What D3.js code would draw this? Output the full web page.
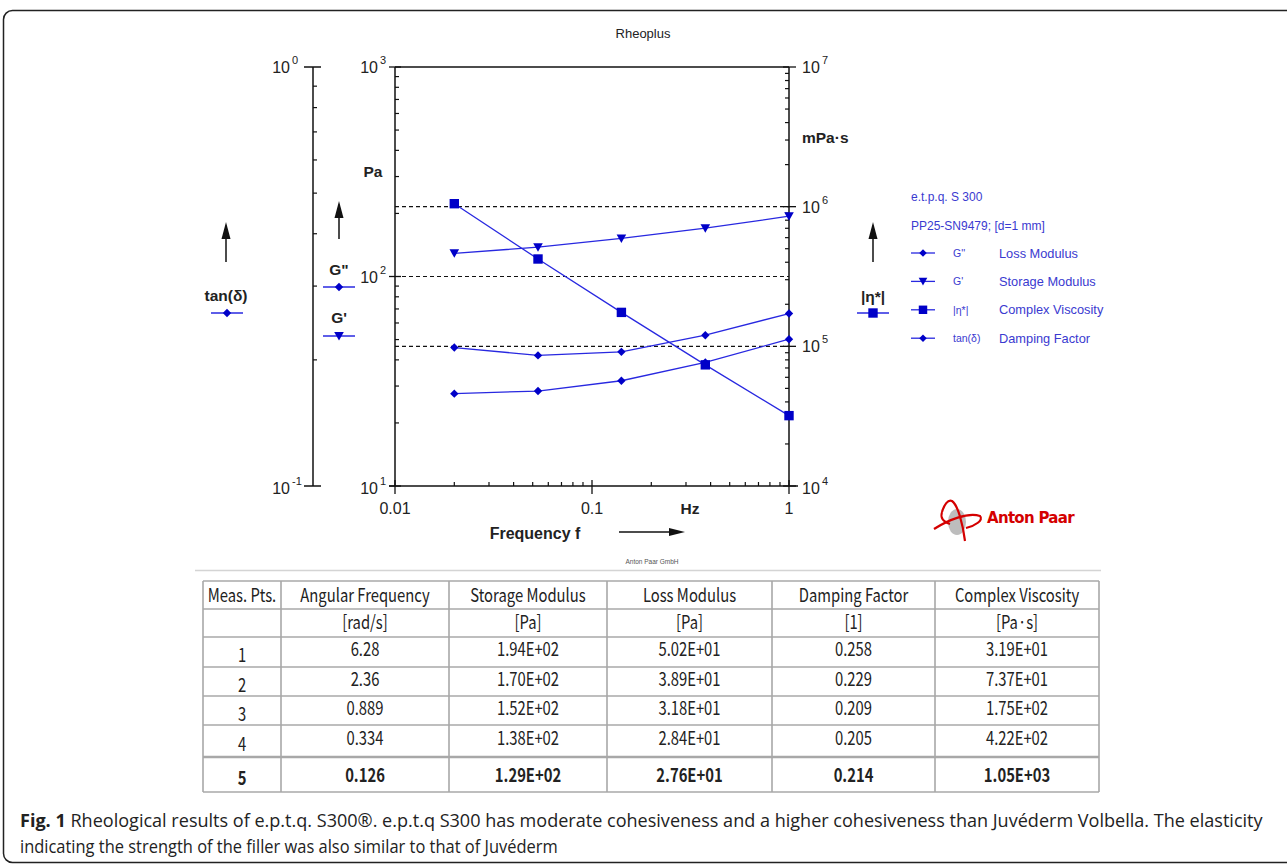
<!DOCTYPE html>
<html>
<head>
<meta charset="utf-8">
<script src="https://cdn.jsdelivr.net/npm/d3@7"></script>
<style>
  html, body { margin: 0; padding: 0; background: #fff; }
  svg { display: block; }
</style>
</head>
<body>
<svg id="chart" width="1287" height="866"></svg>
<script>
// ---------------- DATA ----------------
const measPts = ["1", "2", "3", "4", "5"];
const frequencyHz = [1, 0.376, 0.141, 0.0532, 0.02];             // chart x values
const angularFrequency = ["6.28", "2.36", "0.889", "0.334", "0.126"];
const storageModulus = [194, 170, 152, 138, 129];                  // G' [Pa]
const lossModulus = [50.2, 38.9, 31.8, 28.4, 27.6];                // G'' [Pa]
const dampingFactor = [0.258, 0.229, 0.209, 0.205, 0.214];         // tan(δ)
const complexViscosity = [31.9, 73.7, 175, 422, 1050];             // |η*| [Pa·s]
const storageLabels = ["1.94E+02", "1.70E+02", "1.52E+02", "1.38E+02", "1.29E+02"];
const lossLabels = ["5.02E+01", "3.89E+01", "3.18E+01", "2.84E+01", "2.76E+01"];
const dampingLabels = ["0.258", "0.229", "0.209", "0.205", "0.214"];
const viscLabels = ["3.19E+01", "7.37E+01", "1.75E+02", "4.22E+02", "1.05E+03"];
const tableHeaders = ["Meas. Pts.", "Angular Frequency", "Storage Modulus", "Loss Modulus", "Damping Factor", "Complex Viscosity"];
const tableUnits = ["", "[rad/s]", "[Pa]", "[Pa]", "[1]", "[Pa·s]"];
const xTickLabels = ["0.01", "0.1", "1"];
const legendRows = [
  {sym: "G''", desc: "Loss Modulus", shape: "diamond"},
  {sym: "G'", desc: "Storage Modulus", shape: "triangle"},
  {sym: "|η*|", desc: "Complex Viscosity", shape: "square"},
  {sym: "tan(δ)", desc: "Damping Factor", shape: "diamond"}
];

(function () {
// ---------------- SETUP ----------------
const svg = d3.select("#chart");
const AX = "'Liberation Sans', Arial, sans-serif";
const LINE = "#2828e0", MARK = "#0000c8", LEG = "#3a3ad0";

// outer frame
svg.append("rect").attr("x", 3.5).attr("y", 10.5).attr("width", 1310).attr("height", 852)
  .attr("rx", 9).attr("fill", "none").attr("stroke", "#222").attr("stroke-width", 1.5);

const yTop = 67, yBot = 486, xl = 395, xr = 789;
const x = d3.scaleLog().domain([0.01, 1]).range([xl, xr]);
const yPa = d3.scaleLog().domain([10, 1000]).range([yBot, yTop]);
const yVisc = d3.scaleLog().domain([1e4, 1e7]).range([yBot, yTop]);
const yTan = d3.scaleLog().domain([0.1, 1]).range([yBot, yTop]);
const isMajor = v => Math.abs(Math.log10(v) - Math.round(Math.log10(v))) < 1e-6;

const shapes = {
  diamond: "M0,-4.2L4.2,0L0,4.2L-4.2,0Z",
  triangle: "M-4.8,-4L4.8,-4L0,4.5Z",
  square: "M-4.7,-4.7H4.7V4.7H-4.7Z"
};

// title
svg.append("text").attr("x", 643).attr("y", 38).attr("text-anchor", "middle")
  .attr("font-family", AX).attr("font-size", 13).attr("fill", "#222").text("Rheoplus");

const g = svg.append("g").attr("stroke-linecap", "butt");

// dashed grid lines
[yVisc(1e6), yPa(100), yVisc(1e5)].forEach(yy => {
  g.append("line").attr("x1", xl).attr("x2", xr).attr("y1", yy).attr("y2", yy)
    .attr("stroke", "#111").attr("stroke-width", 1.2).attr("stroke-dasharray", "4,3");
});

// frame lines of plot
g.append("line").attr("x1", xl).attr("x2", xr).attr("y1", yTop).attr("y2", yTop).attr("stroke", "#111").attr("stroke-width", 1.5);
g.append("line").attr("x1", xl).attr("x2", xl).attr("y1", yTop).attr("y2", yBot).attr("stroke", "#111").attr("stroke-width", 1.5);
g.append("line").attr("x1", xr).attr("x2", xr).attr("y1", yTop).attr("y2", yBot).attr("stroke", "#111").attr("stroke-width", 1.5);
g.append("line").attr("x1", xl - 6).attr("x2", xr + 9).attr("y1", yBot).attr("y2", yBot).attr("stroke", "#111").attr("stroke-width", 1.5);

// left Pa axis ticks
yPa.ticks().forEach(v => {
  const yy = yPa(v);
  if (isMajor(v)) g.append("line").attr("x1", xl - 6).attr("x2", xl + 6).attr("y1", yy).attr("y2", yy).attr("stroke", "#111").attr("stroke-width", 1.3);
  else g.append("line").attr("x1", xl).attr("x2", xl + 4).attr("y1", yy).attr("y2", yy).attr("stroke", "#111").attr("stroke-width", 1.2);
});
// right viscosity axis ticks
yVisc.ticks().forEach(v => {
  const yy = yVisc(v);
  if (isMajor(v)) g.append("line").attr("x1", xr - 6).attr("x2", xr + 7).attr("y1", yy).attr("y2", yy).attr("stroke", "#111").attr("stroke-width", 1.3);
  else g.append("line").attr("x1", xr - 4).attr("x2", xr).attr("y1", yy).attr("y2", yy).attr("stroke", "#111").attr("stroke-width", 1.2);
});
// x axis ticks
x.ticks().forEach(v => {
  const xx = x(v);
  if (isMajor(v)) g.append("line").attr("x1", xx).attr("x2", xx).attr("y1", yBot - 6).attr("y2", yBot + 8).attr("stroke", "#111").attr("stroke-width", 1.3);
  else g.append("line").attr("x1", xx).attr("x2", xx).attr("y1", yBot - 4).attr("y2", yBot).attr("stroke", "#111").attr("stroke-width", 1.2);
});
// tan axis
const xt = 313;
g.append("line").attr("x1", xt).attr("x2", xt).attr("y1", yTop).attr("y2", yBot).attr("stroke", "#111").attr("stroke-width", 1.5);
yTan.ticks().forEach(v => {
  const yy = yTan(v);
  if (isMajor(v)) g.append("line").attr("x1", xt - 9).attr("x2", xt + 8).attr("y1", yy).attr("y2", yy).attr("stroke", "#111").attr("stroke-width", 1.5);
  else g.append("line").attr("x1", xt).attr("x2", xt + 4).attr("y1", yy).attr("y2", yy).attr("stroke", "#111").attr("stroke-width", 1.2);
});

// power-of-ten labels
function powLabel(xEnd, yy, exp) {
  svg.append("text").attr("font-family", AX).attr("fill", "#222").attr("font-size", 16)
    .attr("x", xEnd).attr("y", yy + 6).attr("text-anchor", "end").text("10");
  svg.append("text").attr("font-family", AX).attr("fill", "#222").attr("font-size", 11)
    .attr("x", xEnd + 2).attr("y", yy - 3).text(exp);
}
function powLabelLeft(xStart, yy, exp) {
  svg.append("text").attr("font-family", AX).attr("fill", "#222").attr("font-size", 16)
    .attr("x", xStart).attr("y", yy + 6).text("10");
  svg.append("text").attr("font-family", AX).attr("fill", "#222").attr("font-size", 11)
    .attr("x", xStart + 20).attr("y", yy - 3).text(exp);
}
yPa.ticks().filter(isMajor).forEach(v => powLabel(378, yPa(v) + (v === 10 ? 2 : 0), String(Math.round(Math.log10(v)))));
yTan.ticks().filter(isMajor).forEach(v => powLabel(290, yTan(v) + (v === 0.1 ? 2 : 0), String(Math.round(Math.log10(v)))));
yVisc.ticks().filter(isMajor).forEach(v => powLabelLeft(802, yVisc(v) + (v === 1e4 ? 2 : 0), String(Math.round(Math.log10(v)))));

// x tick labels
x.ticks().filter(isMajor).forEach((v, i) => {
  svg.append("text").attr("x", x(v)).attr("y", 514).attr("text-anchor", "middle")
    .attr("font-family", AX).attr("font-size", 16).attr("fill", "#222").text(xTickLabels[i]);
});
svg.append("text").attr("x", 690).attr("y", 514).attr("text-anchor", "middle")
  .attr("font-family", AX).attr("font-size", 15.5).attr("font-weight", "bold").attr("fill", "#222").text("Hz");
svg.append("text").attr("x", 535).attr("y", 539).attr("text-anchor", "middle")
  .attr("font-family", AX).attr("font-size", 16).attr("font-weight", "bold").attr("fill", "#222").text("Frequency f");

// arrows
function hArrow(x1, x2, yy) {
  svg.append("line").attr("x1", x1).attr("x2", x2 - 10).attr("y1", yy).attr("y2", yy).attr("stroke", "#111").attr("stroke-width", 1.5);
  svg.append("path").attr("d", `M${x2},${yy}L${x2 - 16},${yy - 4}L${x2 - 16},${yy + 4}Z`).attr("fill", "#111");
}
function vArrow(xx, yTip, yB) {
  svg.append("line").attr("x1", xx).attr("x2", xx).attr("y1", yB).attr("y2", yTip + 10).attr("stroke", "#111").attr("stroke-width", 1.5);
  svg.append("path").attr("d", `M${xx},${yTip}L${xx - 4.5},${yTip + 17}L${xx + 4.5},${yTip + 17}Z`).attr("fill", "#111");
}
hArrow(619, 685, 532);
vArrow(226, 222, 262);
vArrow(339, 201, 239);
vArrow(873, 222, 262);

// left / right axis titles
function boldLabel(xx, yy, txt, anchor) {
  svg.append("text").attr("x", xx).attr("y", yy).attr("text-anchor", anchor || "middle")
    .attr("font-family", AX).attr("font-size", 15.5).attr("font-weight", "bold").attr("fill", "#222").text(txt);
}
boldLabel(373, 177, "Pa");
boldLabel(802, 143, "mPa·s", "start");
boldLabel(226, 301, "tan(δ)");
boldLabel(339, 275, "G\"");
boldLabel(339, 323, "G'");
boldLabel(873, 302, "|η*|");

// small legend keys beside axes
function legKey(x1, x2, yy, shape) {
  svg.append("line").attr("x1", x1).attr("x2", x2).attr("y1", yy).attr("y2", yy).attr("stroke", LINE).attr("stroke-width", 1.5);
  svg.append("path").attr("d", shapes[shape]).attr("transform", `translate(${(x1 + x2) / 2},${yy})`).attr("fill", MARK);
}
legKey(211, 243, 313, "diamond");
legKey(323, 355, 287, "diamond");
legKey(323, 355, 336, "triangle");
legKey(857, 889, 313, "square");

// ---------------- SERIES ----------------
const series = [
  {vals: lossModulus, y: yPa, shape: "diamond"},
  {vals: storageModulus, y: yPa, shape: "triangle"},
  {vals: complexViscosity.map(v => v * 1000), y: yVisc, shape: "square"},
  {vals: dampingFactor, y: yTan, shape: "diamond"}
];
series.forEach(s => {
  const pts = frequencyHz.map((f, i) => [x(f), s.y(s.vals[i])]);
  svg.append("path").attr("d", d3.line()(pts)).attr("fill", "none").attr("stroke", LINE).attr("stroke-width", 1.3);
  svg.selectAll(null).data(pts).enter().append("path")
    .attr("d", shapes[s.shape]).attr("transform", d => `translate(${d[0]},${d[1]})`).attr("fill", MARK);
});

// ---------------- RIGHT LEGEND ----------------
svg.append("text").attr("x", 911).attr("y", 201).attr("font-family", AX).attr("font-size", 12).attr("fill", LEG).text("e.t.p.q. S 300");
svg.append("text").attr("x", 911).attr("y", 230).attr("font-family", AX).attr("font-size", 12).attr("fill", LEG).text("PP25-SN9479; [d=1 mm]");
legendRows.forEach((r, i) => {
  const yy = 253 + i * 28.4;
  svg.append("line").attr("x1", 911).attr("x2", 935).attr("y1", yy).attr("y2", yy).attr("stroke", LINE).attr("stroke-width", 1.3);
  svg.append("path").attr("d", shapes[r.shape]).attr("transform", `translate(923,${yy}) scale(0.9)`).attr("fill", MARK);
  svg.append("text").attr("x", 953).attr("y", yy + 4).attr("font-family", AX).attr("font-size", 10.5).attr("fill", LEG).text(r.sym);
  svg.append("text").attr("x", 999).attr("y", yy + 4.5).attr("font-family", AX).attr("font-size", 12.8).attr("fill", LEG).text(r.desc);
});

// ---------------- LOGO ----------------
const logo = svg.append("g");
logo.append("ellipse").attr("cx", 957).attr("cy", 522).attr("rx", 9).attr("ry", 13).attr("fill", "#bdbdbd");
logo.append("path").attr("d", "M934,529 C948,520 968,512 980,516 C984,520 975,526 966,528")
  .attr("fill", "none").attr("stroke", "#d40000").attr("stroke-width", 2.2);
logo.append("path").attr("d", "M942,512 C944,505 948,499 952,501 C958,505 963,525 965,541")
  .attr("fill", "none").attr("stroke", "#d40000").attr("stroke-width", 2.2);
logo.append("path").attr("d", "M942,512 C940,518 944,522 950,524")
  .attr("fill", "none").attr("stroke", "#d40000").attr("stroke-width", 2);
logo.append("text").attr("x", 987).attr("y", 523).attr("font-family", "'DejaVu Sans', sans-serif")
  .attr("font-size", 15).attr("font-weight", "bold").attr("fill", "#d40000").attr("letter-spacing", -0.7).text("Anton Paar");

svg.append("text").attr("x", 652).attr("y", 564).attr("text-anchor", "middle")
  .attr("font-family", AX).attr("font-size", 6.5).attr("fill", "#555").text("Anton Paar GmbH");

// separator line under the chart image
svg.append("line").attr("x1", 195).attr("x2", 1101).attr("y1", 570.5).attr("y2", 570.5).attr("stroke", "#d4d4d4").attr("stroke-width", 1.5);

// ---------------- TABLE ----------------
const colX = [203, 281, 449, 607, 772, 935, 1099];
const rowY = [581, 609, 637, 667, 696, 725, 757, 792];
const TF = "'Noto Sans CJK KR', 'Noto Sans', sans-serif";
const tg = svg.append("g");
const SX = 0.8;
function cell(ci, yc, txt, bold) {
  const cx = (colX[ci] + colX[ci + 1]) / 2;
  tg.append("text").attr("transform", `translate(${cx},${yc}) scale(${SX},1)`)
    .attr("text-anchor", "middle").attr("font-family", TF).attr("font-size", 18.5)
    .attr("font-weight", bold ? "bold" : "normal").attr("fill", "#222").text(txt);
}
tableHeaders.forEach((h, i) => cell(i, 602, h));
tableUnits.forEach((u, i) => { if (u) cell(i, 629, u); });
const rowsData = measPts.map((m, i) => [m, angularFrequency[i], storageLabels[i], lossLabels[i], dampingLabels[i], viscLabels[i]]);
rowsData.forEach((row, r) => {
  const y0 = rowY[r + 2], y1 = rowY[r + 3];
  const bold = r === 4;
  row.forEach((v, c) => {
    const yc = c === 0 ? (y0 + y1) / 2 + 10 : (y0 + y1) / 2 + (bold ? 7 : 4);
    cell(c, yc, v, bold);
  });
});
// grid
rowY.forEach((yy, i) => {
  tg.append("line").attr("x1", colX[0]).attr("x2", colX[colX.length - 1]).attr("y1", yy).attr("y2", yy)
    .attr("stroke", "#a8a8a8").attr("stroke-width", i === 6 ? 2.5 : 1.6);
});
colX.forEach(xx => {
  tg.append("line").attr("x1", xx).attr("x2", xx).attr("y1", rowY[0]).attr("y2", rowY[rowY.length - 1])
    .attr("stroke", "#a8a8a8").attr("stroke-width", 1.6);
});

// ---------------- CAPTION ----------------
const CF = "'Open Sans', 'Noto Sans', sans-serif";
function captionLine(yy, width, build) {
  const t = svg.append("text").attr("x", 0).attr("y", 0).attr("font-family", CF).attr("font-size", 18.5).attr("fill", "#222");
  build(t);
  const len = t.node().getComputedTextLength();
  t.attr("transform", `translate(20,${yy}) scale(${width / len},1)`);
}
captionLine(827, 1244, t => {
  t.append("tspan").attr("font-weight", "bold").text("Fig. 1");
  t.append("tspan").text(" Rheological results of e.p.t.q. S300®. e.p.t.q S300 has moderate cohesiveness and a higher cohesiveness than Juvéderm Volbella. The elasticity");
});
captionLine(853, 538, t => t.text("indicating the strength of the filler was also similar to that of Juvéderm"));
})();
</script>
</body>
</html>
